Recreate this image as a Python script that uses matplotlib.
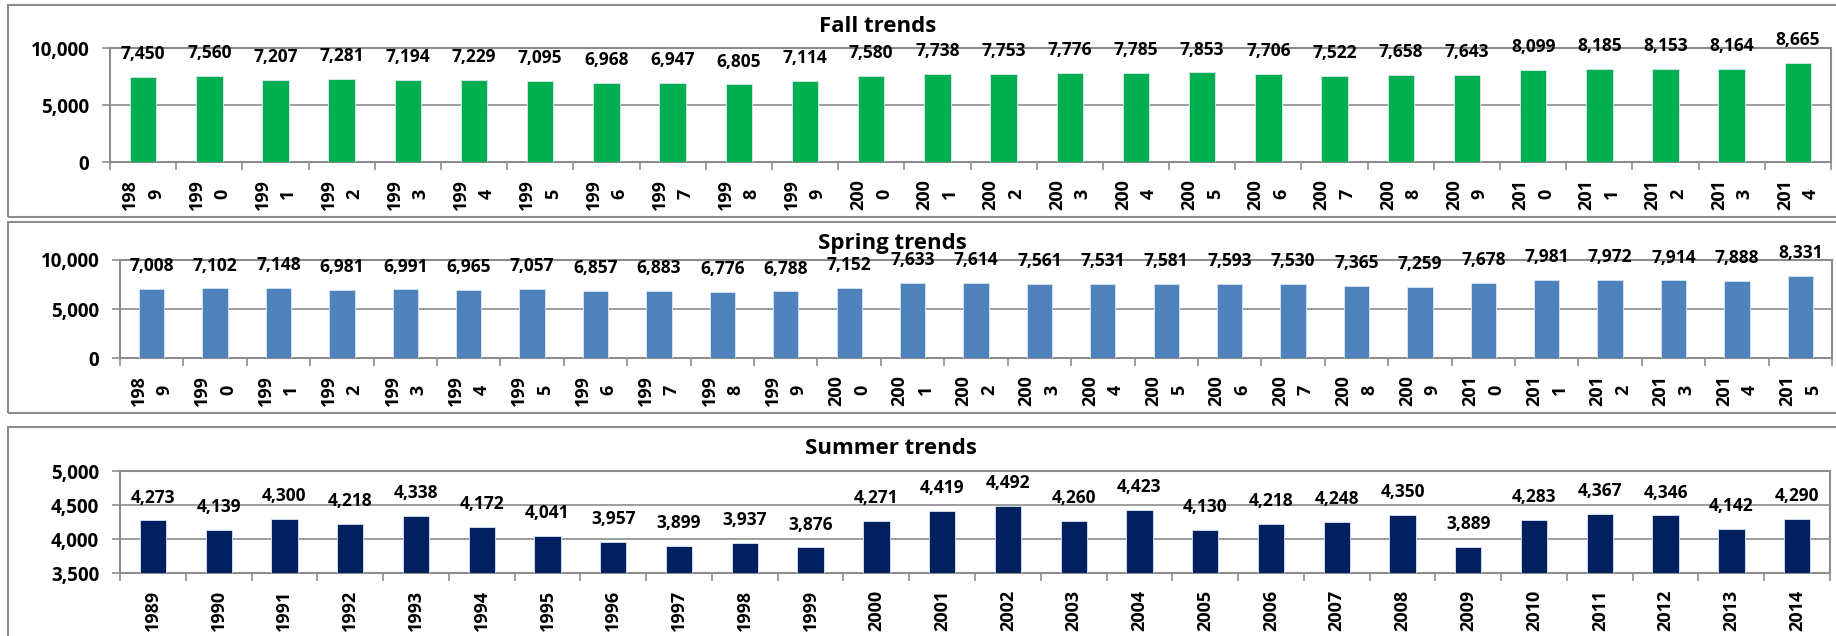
import matplotlib
matplotlib.use("Agg")
import matplotlib.pyplot as plt
from matplotlib.patches import Rectangle
import numpy as np

plt.rcParams["font.family"] = ["Open Sans", "DejaVu Sans"]

# ---- data -------------------------------------------------------------
fall_years = list(range(1989, 2015))
fall_values = [7450, 7560, 7207, 7281, 7194, 7229, 7095, 6968, 6947, 6805,
               7114, 7580, 7738, 7753, 7776, 7785, 7853, 7706, 7522, 7658,
               7643, 8099, 8185, 8153, 8164, 8665]

spring_years = list(range(1989, 2016))
spring_values = [7008, 7102, 7148, 6981, 6991, 6965, 7057, 6857, 6883, 6776,
                 6788, 7152, 7633, 7614, 7561, 7531, 7581, 7593, 7530, 7365,
                 7259, 7678, 7981, 7972, 7914, 7888, 8331]

summer_years = list(range(1989, 2015))
summer_values = [4273, 4139, 4300, 4218, 4338, 4172, 4041, 3957, 3899, 3937,
                 3876, 4271, 4419, 4492, 4260, 4423, 4130, 4218, 4248, 4350,
                 3889, 4283, 4367, 4346, 4142, 4290]

W, H = 1836, 636
GRAY = "#8c8c8c"
fig = plt.figure(figsize=(W / 100, H / 100), dpi=100)


def px_axes(l, t, r, b):
    return fig.add_axes([l / W, 1 - b / H, (r - l) / W, (b - t) / H])


def frame(t, b):
    fig.patches.append(Rectangle((8 / W, 1 - b / H), (W + 20) / W, (b - t) / H,
                                 transform=fig.transFigure, fill=False,
                                 edgecolor=GRAY, linewidth=1.5, clip_on=False))


def panel(box, years, values, color, ylim, yticks, title, title_xy, wrap):
    ax = px_axes(*box)
    n = len(values)
    x = np.arange(n)
    ax.bar(x, values, width=0.40, color=color, edgecolor="#d9e6f2",
           linewidth=0.6, zorder=3)
    ax.set_xlim(-0.5, n - 0.5)
    ax.set_ylim(*ylim)
    ax.set_yticks(yticks, [f"{v:,}" for v in yticks],
                  fontsize=13.5, fontweight="bold")
    ax.yaxis.grid(True, color=GRAY, linewidth=1.2, zorder=0)
    ax.tick_params(axis="y", length=6, color=GRAY, width=1.2, pad=9)

    # category boundaries as major ticks, labels on minor ticks
    ax.set_xticks(np.arange(n + 1) - 0.5, [])
    labels = [f"{str(y)[:3]}\n{str(y)[3]}" if wrap else str(y) for y in years]
    ax.set_xticks(x, labels, minor=True, rotation=90, fontsize=13,
                  fontweight="bold", multialignment="center",
                  linespacing=1.55 if wrap else 1.2)
    ax.tick_params(axis="x", which="major", length=6, color=GRAY, width=1.2)
    ax.tick_params(axis="x", which="minor", length=0, pad=12)
    for sp in ax.spines.values():
        sp.set_color(GRAY)
        sp.set_linewidth(1.5)

    for i, v in enumerate(values):
        ax.annotate(f"{v:,}", (i, v), xytext=(0, 10), textcoords="offset points",
                    ha="center", va="bottom", fontsize=12.5, fontweight="bold",
                    annotation_clip=False, zorder=4)

    fig.text(title_xy[0] / W, 1 - title_xy[1] / H, title, ha="center",
             va="center", fontsize=16, fontweight="bold")
    return ax


frame(5, 217)
frame(222, 413)
frame(427, 660)

panel((110, 48, 1831, 162), fall_years, fall_values, "#00b050",
      (0, 10000), [0, 5000, 10000], "Fall trends", (878, 26), True)
panel((120, 260, 1832, 358), spring_years, spring_values, "#4f81bd",
      (0, 10000), [0, 5000, 10000], "Spring trends", (892, 243), True)
panel((120, 471, 1830, 573), summer_years, summer_values, "#002060",
      (3500, 5000), [3500, 4000, 4500, 5000], "Summer trends", (891, 449), False)

fig.savefig("out.png", dpi=100)
